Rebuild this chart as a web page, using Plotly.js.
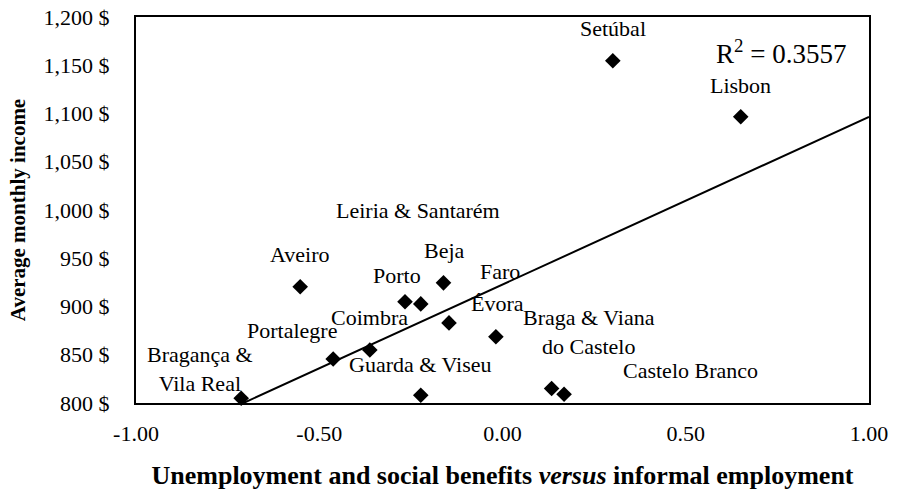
<!DOCTYPE html>
<html>
<head>
<meta charset="utf-8">
<script src="https://cdn.plot.ly/plotly-3.0.1.min.js"></script>
<style>html,body{margin:0;padding:0;background:#fff;}#chart{width:899px;height:492px;}</style>
</head>
<body>
<div id="chart"></div>
<script>
// Data
const regions = ["Bragança & Vila Real","Portalegre","Coimbra","Aveiro","Porto","Leiria & Santarém","Beja","Guarda & Viseu","Faro","Évora","Braga & Viana do Castelo","Castelo Branco","Setúbal","Lisbon"];
const informality = [-0.713,-0.462,-0.362,-0.552,-0.266,-0.223,-0.161,-0.223,-0.146,-0.018,0.134,0.168,0.301,0.650];
const income = [805,845.6,855,920.5,905,902.7,924.5,808,883,868.7,815,809,1154.7,1096.7];
const xTickVals = [-1,-0.5,0,0.5,1];
const xTickText = ["-1.00","-0.50","0.00","0.50","1.00"];
const yTickVals = [800,850,900,950,1000,1050,1100,1150,1200];
const yTickText = ["800 $","850 $","900 $","950 $","1,000 $","1,050 $","1,100 $","1,150 $","1,200 $"];
const r2Text = "R<sup>2</sup> = 0.3557";

// Linear least-squares trend line
const n = informality.length;
const mx = informality.reduce((a,b)=>a+b,0)/n;
const my = income.reduce((a,b)=>a+b,0)/n;
let sxy=0,sxx=0;
for(let i=0;i<n;i++){sxy+=(informality[i]-mx)*(income[i]-my);sxx+=(informality[i]-mx)**2;}
const slope=sxy/sxx, intercept=my-slope*mx;
const tx=[Math.min(...informality),1];
const ty=tx.map(v=>intercept+slope*v);

const FONT="Liberation Serif, Cambria, serif";

// Label placements (layout, data coordinates)
const labelPos = [
  {t:"Setúbal",x:0.302,y:1188.6},
  {t:"Lisbon",x:0.650,y:1129.5},
  {t:"Leiria & Santarém",x:-0.231,y:1000},
  {t:"Aveiro",x:-0.555,y:953.4},
  {t:"Beja",x:-0.157,y:958.5},
  {t:"Porto",x:-0.288,y:932.6},
  {t:"Faro",x:-0.007,y:935.8},
  {t:"Coimbra",x:-0.362,y:888.1},
  {t:"Évora",x:-0.015,y:903.6},
  {t:"Portalegre",x:-0.574,y:875.6},
  {t:"Braga & Viana<br>do Castelo",x:0.236,y:873.1},
  {t:"Bragança &<br>Vila Real",x:-0.825,y:835.2},
  {t:"Guarda & Viseu",x:-0.225,y:840.4},
  {t:"Castelo Branco",x:0.512,y:834.2}
];
const annotations = labelPos.map(p=>({x:p.x,y:p.y,xref:'x',yref:'y',text:p.t,showarrow:false,
  font:{family:FONT,size:22,color:'#000'},align:'center',xanchor:'center',yanchor:'middle'}));
annotations.push({x:0.759,y:1164,xref:'x',yref:'y',text:r2Text,showarrow:false,
  font:{family:FONT,size:27,color:'#000'},xanchor:'center',yanchor:'middle'});

const traces=[
  {x:informality,y:income,text:regions,type:'scatter',mode:'markers',cliponaxis:false,
   marker:{symbol:'diamond',size:12,color:'#000'},hoverinfo:'text+x+y'},
  {x:tx,y:ty,type:'scatter',mode:'lines',line:{color:'#000',width:2},hoverinfo:'skip'}
];

const layout={
  width:899,height:492,
  margin:{l:136,r:30,t:17,b:89},
  paper_bgcolor:'#fff',plot_bgcolor:'#fff',
  showlegend:false,
  font:{family:FONT,color:'#000'},
  xaxis:{range:[-1,1],tickmode:'array',tickvals:xTickVals,ticktext:xTickText,showgrid:false,zeroline:false,
    showline:true,mirror:true,linecolor:'#000',linewidth:2,ticks:'',ticklabelstandoff:10,
    tickfont:{family:FONT,size:22,color:'#000'},
    title:{text:"<b>Unemployment and social benefits <i>versus</i> informal employment</b>",
      font:{family:FONT,size:26,color:'#000'},standoff:20}},
  yaxis:{range:[800,1200],tickmode:'array',tickvals:yTickVals,ticktext:yTickText,showgrid:false,zeroline:false,
    showline:true,mirror:true,linecolor:'#000',linewidth:2,ticks:'',ticklabelstandoff:20,
    tickfont:{family:FONT,size:22,color:'#000'},
    title:{text:"<b>Average monthly income</b>",font:{family:FONT,size:21,color:'#000'},standoff:12}},
  annotations:annotations
};
Plotly.newPlot('chart',traces,layout,{displayModeBar:false,staticPlot:true});
</script>
</body>
</html>
